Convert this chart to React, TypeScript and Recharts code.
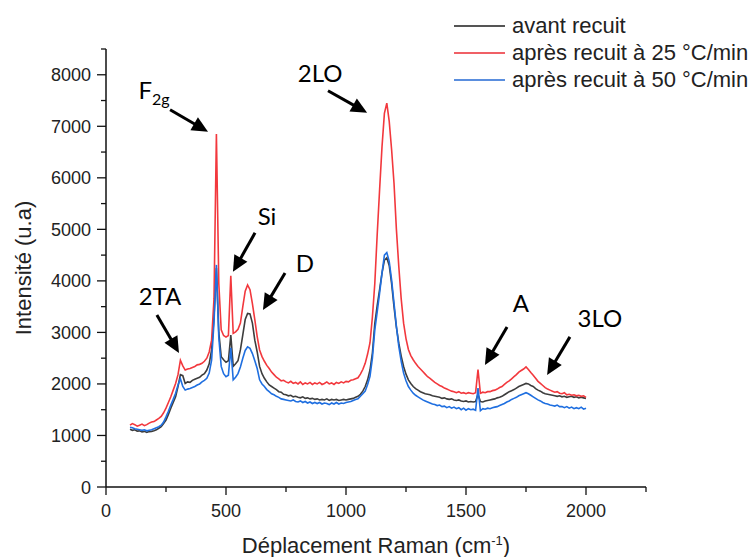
import React from "react";
import {
  Legend,
  Line,
  LineChart,
  ReferenceDot,
  ReferenceLine,
  XAxis,
  YAxis,
} from "recharts";

// Raman shift (cm-1), sampled every 10 cm-1
const ramanShift = [
  100, 110, 120, 130, 140, 150, 160, 170, 180, 190,
  200, 210, 220, 230, 240, 250, 260, 270, 280, 290,
  300, 310, 320, 330, 340, 350, 360, 370, 380, 390,
  400, 410, 420, 430, 440, 450, 460, 470, 480, 490,
  500, 510, 520, 530, 540, 550, 560, 570, 580, 590,
  600, 610, 620, 630, 640, 650, 660, 670, 680, 690,
  700, 710, 720, 730, 740, 750, 760, 770, 780, 790,
  800, 810, 820, 830, 840, 850, 860, 870, 880, 890,
  900, 910, 920, 930, 940, 950, 960, 970, 980, 990,
  1000, 1010, 1020, 1030, 1040, 1050, 1060, 1070, 1080, 1090,
  1100, 1110, 1120, 1130, 1140, 1150, 1160, 1170, 1180, 1190,
  1200, 1210, 1220, 1230, 1240, 1250, 1260, 1270, 1280, 1290,
  1300, 1310, 1320, 1330, 1340, 1350, 1360, 1370, 1380, 1390,
  1400, 1410, 1420, 1430, 1440, 1450, 1460, 1470, 1480, 1490,
  1500, 1510, 1520, 1530, 1540, 1550, 1560, 1570, 1580, 1590,
  1600, 1610, 1620, 1630, 1640, 1650, 1660, 1670, 1680, 1690,
  1700, 1710, 1720, 1730, 1740, 1750, 1760, 1770, 1780, 1790,
  1800, 1810, 1820, 1830, 1840, 1850, 1860, 1870, 1880, 1890,
  1900, 1910, 1920, 1930, 1940, 1950, 1960, 1970, 1980, 1990,
  2000,
];

const avantRecuit = [
  1120, 1100, 1110, 1085, 1090, 1070, 1080, 1060, 1075, 1080,
  1090, 1110, 1140, 1170, 1230, 1300, 1410, 1530, 1640, 1750,
  1950, 2180, 2160, 2010, 2040, 2030, 2070, 2090, 2110, 2130,
  2170, 2200, 2270, 2390, 2660, 3300, 4250, 3000, 2530, 2470,
  2420, 2450, 2950, 2340, 2390, 2450, 2660, 2950, 3250, 3370,
  3360, 3180, 2850, 2620, 2340, 2200, 2110, 2040, 1980, 1950,
  1920, 1890, 1850, 1840, 1800, 1790, 1770, 1780, 1750, 1760,
  1740, 1730, 1750, 1720, 1730, 1710, 1720, 1700, 1710, 1690,
  1700, 1690, 1710, 1680, 1700, 1690, 1700, 1680, 1690, 1700,
  1690, 1700, 1710, 1720, 1740, 1760, 1800, 1860, 1950, 2080,
  2270, 2600, 3170, 3520, 3830, 4150, 4400, 4450, 4300, 3950,
  3500, 3100, 2790, 2540, 2340, 2190, 2080, 2010, 1950, 1910,
  1880, 1850, 1830, 1810, 1800, 1790, 1770, 1760, 1750, 1740,
  1720, 1730, 1710, 1700, 1710, 1690, 1680, 1690, 1670, 1660,
  1670, 1650, 1660, 1650, 1660, 1800, 1660, 1650, 1670, 1680,
  1690, 1700, 1710, 1730, 1740, 1760, 1790, 1820, 1850, 1870,
  1890, 1920, 1950, 1970, 1990, 2010, 2000, 1970, 1950, 1910,
  1880, 1860, 1830, 1810, 1800, 1790, 1780, 1770, 1760, 1770,
  1750, 1760, 1740, 1750, 1760, 1740, 1750, 1730, 1740, 1730,
  1720,
];

const recuit25 = [
  1200, 1230, 1210, 1180, 1200, 1220, 1190, 1210, 1240, 1260,
  1270, 1300, 1330, 1370, 1440, 1530, 1640, 1750, 1880, 2010,
  2180, 2460, 2350, 2270, 2290, 2300, 2320, 2340, 2370, 2380,
  2400, 2440, 2500, 2620, 2850, 3650, 6850, 3950, 3050, 2940,
  2910, 2940, 4100, 2980, 3010, 3060, 3180, 3500, 3800, 3920,
  3830, 3560, 3250, 2920, 2660, 2530, 2440, 2360, 2300, 2230,
  2180, 2130, 2100, 2060, 2070, 2040, 2020, 2050, 2010, 2030,
  2000, 2040, 1990, 2020, 2000, 2030, 1990, 2020, 2000, 2030,
  1990, 2010, 2040, 2000, 2020, 1990, 2030, 2010, 2040, 2020,
  2050, 2040, 2070, 2080, 2100, 2120, 2190, 2280, 2400, 2580,
  2800, 3300, 3950, 4900, 5770, 6600, 7250, 7450, 7100, 6550,
  5900, 5000, 4280, 3650, 3180, 2880, 2670, 2550, 2470, 2400,
  2340, 2290, 2240, 2190, 2140, 2110, 2070, 2030, 2000, 1970,
  1950, 1920, 1900, 1880, 1860, 1850, 1830, 1850, 1820, 1830,
  1810, 1830, 1820, 1810, 1830, 2280, 1820, 1840, 1830, 1850,
  1850, 1870, 1880, 1900, 1930, 1950, 1990, 2030, 2060, 2100,
  2140, 2180, 2230, 2260, 2290, 2330, 2280, 2220, 2170, 2110,
  2050, 2010, 1970, 1930, 1900, 1880, 1860, 1840, 1850, 1820,
  1810, 1830, 1790, 1800, 1780, 1790, 1770, 1780, 1760, 1770,
  1740,
];

const recuit50 = [
  1160, 1150, 1130, 1120, 1110, 1100, 1110, 1090, 1100, 1110,
  1130, 1150, 1170, 1200, 1260, 1360, 1470, 1590, 1700, 1820,
  1980, 2100, 1950, 1880, 1900, 1910, 1930, 1950, 1980, 2000,
  2040, 2070, 2110, 2210, 2460, 3200, 4310, 2900, 2340, 2200,
  2140, 2170, 2700, 2080, 2130, 2200, 2330, 2500, 2650, 2720,
  2690, 2590, 2450, 2300, 2080, 2000, 1950, 1890, 1850, 1810,
  1790, 1760, 1740, 1710, 1700, 1690, 1680, 1670, 1690, 1660,
  1650, 1670, 1640, 1660, 1630, 1650, 1620, 1640, 1620, 1640,
  1610, 1630, 1620, 1600, 1630, 1610, 1640, 1610, 1630, 1620,
  1640, 1650, 1660, 1680, 1700, 1710, 1760, 1810, 1860, 1990,
  2150, 2500, 3050, 3400, 3760, 4150, 4500, 4550, 4380, 4020,
  3570, 3120, 2730, 2440, 2210, 2060, 1950, 1880, 1820, 1780,
  1750, 1720, 1690, 1670, 1650, 1630, 1610, 1600, 1580, 1590,
  1560, 1570, 1540, 1560, 1530, 1550, 1520, 1540, 1500, 1530,
  1490, 1520, 1500, 1510, 1490, 1920, 1480, 1520, 1510, 1530,
  1520, 1540, 1550, 1560, 1580, 1600, 1620, 1650, 1670, 1700,
  1720, 1740, 1770, 1790, 1810, 1830, 1810, 1780, 1750, 1720,
  1690, 1670, 1640, 1620, 1610, 1590, 1580, 1570, 1590, 1560,
  1560, 1540, 1560, 1530, 1550, 1520, 1540, 1520, 1550, 1510,
  1530,
];

const xTicks = [0, 250, 500, 750, 1000, 1250, 1500, 1750, 2000, 2250];
const yTicks = [
  0, 500, 1000, 1500, 2000, 2500, 3000, 3500, 4000,
  4500, 5000, 5500, 6000, 6500, 7000, 7500, 8000, 8500,
];

// peak labels: text position, arrow tail -> arrow tip (data coords)
const peakNotes = [
  { label: "F", sub: "2g", tx: 200, ty: 7534, x1: 267, y1: 7320, x2: 425, y2: 6893 },
  { label: "2LO", tx: 892, ty: 7864, x1: 925, y1: 7689, x2: 1088, y2: 7262 },
  { label: "Si", tx: 671, ty: 5087, x1: 621, y1: 4932, x2: 529, y2: 4175 },
  { label: "D", tx: 829, ty: 4175, x1: 746, y1: 4155, x2: 654, y2: 3437 },
  { label: "2TA", tx: 225, ty: 3534, x1: 212, y1: 3340, x2: 304, y2: 2602 },
  { label: "A", tx: 1729, ty: 3398, x1: 1671, y1: 3107, x2: 1579, y2: 2369 },
  { label: "3LO", tx: 2058, ty: 3107, x1: 1933, y1: 2913, x2: 1838, y2: 2175 },
];

const data = ramanShift.map((x, i) => ({
  x,
  avant: avantRecuit[i],
  r25: recuit25[i],
  r50: recuit50[i],
}));

const FONT = "'Liberation Sans', Arial, sans-serif";
const NOTE_FONT = "Lato, 'Open Sans', sans-serif";

const COLORS: Record<string, string> = {
  avant: "#3d3d3d",
  r25: "#f2383d",
  r50: "#1f6fe0",
};
const LEGEND_COLORS: Record<string, string> = {
  avant: "#555555",
  r25: "#f06066",
  r50: "#5a8ede",
};

function XTick({ x, y, payload }: any) {
  const v = payload.value;
  const major = v % 500 === 0;
  return (
    <g>
      <line x1={x} x2={x} y1={y} y2={y + (major ? 8 : 5)} stroke="#111" strokeWidth={1.3} />
      {major && (
        <text x={x} y={y + 30} textAnchor="middle" fontSize={18} fontFamily={FONT} fill="#222">
          {v}
        </text>
      )}
    </g>
  );
}

function YTick({ x, y, payload }: any) {
  const v = payload.value;
  const major = v % 1000 === 0;
  return (
    <g>
      <line x1={x} x2={x - (major ? 9 : 5)} y1={y} y2={y} stroke="#111" strokeWidth={1.3} />
      {major && (
        <text x={x - 15} y={y + 6.5} textAnchor="end" fontSize={18} fontFamily={FONT} fill="#222">
          {v}
        </text>
      )}
    </g>
  );
}

function Arrow({ x1, y1, x2, y2 }: any) {
  const dx = x2 - x1;
  const dy = y2 - y1;
  const len = Math.sqrt(dx * dx + dy * dy) || 1;
  const ux = dx / len;
  const uy = dy / len;
  const head = 16;
  const half = 7.5;
  const bx = x2 - ux * head;
  const by = y2 - uy * head;
  return (
    <g>
      <line x1={x1} y1={y1} x2={bx + ux * 2} y2={by + uy * 2} stroke="#000" strokeWidth={3} />
      <polygon
        points={`${x2},${y2} ${bx - uy * half},${by + ux * half} ${bx + uy * half},${by - ux * half}`}
        fill="#000"
      />
    </g>
  );
}

function legendContent({ payload }: any) {
  return (
    <div style={{ fontFamily: FONT, fontSize: 22, color: "#222" }}>
      {(payload || []).map((p: any) => (
        <div key={p.value} style={{ display: "flex", alignItems: "center", height: 27, whiteSpace: "nowrap" }}>
          <span
            style={{
              display: "inline-block",
              width: 51,
              height: 0,
              borderTop: `2px solid ${LEGEND_COLORS[p.dataKey] || p.color}`,
              marginRight: 7,
            }}
          />
          <span>{p.value}</span>
        </div>
      ))}
    </div>
  );
}

export default function App() {
  return (
    <div style={{ position: "absolute", left: 0, top: 0, width: 756, height: 557, background: "#fff" }}>
      <LineChart
        width={756}
        height={557}
        data={data}
        margin={{ top: 49, right: 110, bottom: 30, left: 0 }}
      >
        <XAxis
          dataKey="x"
          type="number"
          domain={[0, 2250]}
          ticks={xTicks}
          interval={0}
          tick={<XTick />}
          tickLine={false}
          tickSize={0}
          tickMargin={0}
          height={40}
          axisLine={{ stroke: "#111", strokeWidth: 1.5 }}
          label={{
            content: ({ viewBox }: any) => (
              <text
                x={viewBox.x + viewBox.width / 2}
                y={viewBox.y + 66}
                textAnchor="middle"
                fontSize={22}
                fontFamily={FONT}
                fill="#222"
              >
                Déplacement Raman (cm
                <tspan dy={-8} fontSize={13}>-1</tspan>
                <tspan dy={8}>)</tspan>
              </text>
            ),
          }}
        />
        <YAxis
          type="number"
          domain={[0, 8500]}
          ticks={yTicks}
          interval={0}
          tick={<YTick />}
          tickLine={false}
          tickSize={0}
          tickMargin={0}
          width={106}
          axisLine={{ stroke: "#111", strokeWidth: 1.5 }}
          label={{
            content: ({ viewBox }: any) => {
              const cx = 31;
              const cy = viewBox.y + viewBox.height / 2;
              return (
                <text
                  x={cx}
                  y={cy}
                  transform={`rotate(-90, ${cx}, ${cy})`}
                  textAnchor="middle"
                  fontSize={22}
                  fontFamily={FONT}
                  fill="#222"
                >
                  Intensité (u.a)
                </text>
              );
            },
          }}
        />
        <Legend
          layout="vertical"
          align="center"
          verticalAlign="middle"
          itemSorter="dataKey"
          content={legendContent}
          wrapperStyle={{ top: 12, left: 454, width: 302 }}
        />
        <Line
          dataKey="avant"
          name="avant recuit"
          stroke={COLORS.avant}
          strokeWidth={1.6}
          dot={false}
          isAnimationActive={false}
        />
        <Line
          dataKey="r25"
          name="après recuit à 25 °C/min"
          stroke={COLORS.r25}
          strokeWidth={1.6}
          dot={false}
          isAnimationActive={false}
        />
        <Line
          dataKey="r50"
          name="après recuit à 50 °C/min"
          stroke={COLORS.r50}
          strokeWidth={1.6}
          dot={false}
          isAnimationActive={false}
        />
        {peakNotes.map((n) => (
          <ReferenceLine
            key={`arrow-${n.label}`}
            segment={[
              { x: n.x1, y: n.y1 },
              { x: n.x2, y: n.y2 },
            ]}
            shape={(p: any) => <Arrow {...p} />}
            ifOverflow="visible"
          />
        ))}
        {peakNotes.map((n) => (
          <ReferenceDot
            key={`note-${n.label}`}
            x={n.tx}
            y={n.ty}
            r={1}
            ifOverflow="visible"
            shape={(p: any) => (
              <text x={p.cx} y={p.cy} textAnchor="middle" fontSize={24} fontFamily={NOTE_FONT} fill="#000">
                {n.label}
                {n.sub && (
                  <tspan dy={6} fontSize={16}>
                    {n.sub}
                  </tspan>
                )}
              </text>
            )}
          />
        ))}
      </LineChart>
    </div>
  );
}
